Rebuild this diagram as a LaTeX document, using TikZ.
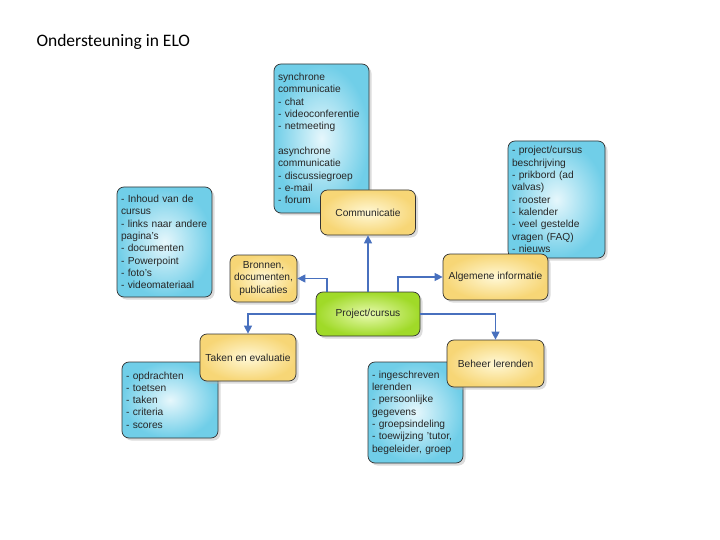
\documentclass[tikz,border=0pt]{standalone}
\usepackage{fontspec}
\setmainfont{Liberation Sans}
\newfontfamily\titlefont{Carlito}
\usepackage{xcolor}
\usetikzlibrary{arrows.meta,shadows}
\definecolor{pijl}{RGB}{72,112,190}
\definecolor{blauwrand}{RGB}{112,206,232}
\definecolor{blauwmid}{RGB}{230,247,252}
\definecolor{geelrand}{RGB}{247,214,118}
\definecolor{geelmid}{RGB}{255,248,214}
\definecolor{groenrand}{RGB}{160,218,40}
\definecolor{groenmid}{RGB}{232,250,176}

\begin{document}
\begin{tikzpicture}[x=1pt,y=-1pt,
  box/.style={draw=black!80,line width=0.7pt,rounded corners=7pt,
    drop shadow={shadow xshift=2.5pt,shadow yshift=-2.5pt,fill=black!30,opacity=0.45},
    font=\fontsize{10.2}{12.3}\selectfont,text=black!85},
  bl/.style={box,inner color=blauwmid,outer color=blauwrand,align=left,inner xsep=4pt,inner ysep=2pt},
  gl/.style={box,inner color=geelmid,outer color=geelrand,align=center},
  gr/.style={box,inner color=groenmid,outer color=groenrand,align=center},
  ar/.style={draw=pijl,line width=1.2pt,-{Triangle[length=8pt,width=8pt]}}]
\useasboundingbox (0,0) rectangle (720,540);
\node[anchor=base west,font=\titlefont\fontsize{17.5}{20}\selectfont] (h) at (33,47) {Ondersteuning in ELO};
% lijstjes
\node[bl,minimum height=149pt,text width=87pt] (ci) at (321.5,138.5)
  {synchrone\\communicatie\\- chat\\- videoconferentie\\- netmeeting\\[12.3pt]asynchrone\\communicatie\\- discussiegroep\\- e-mail\\- forum};
\node[bl,minimum height=110pt,text width=87pt] (bi) at (164.5,242)
  {- Inhoud van de\\cursus\\- links naar andere\\pagina’s\\- documenten\\- Powerpoint\\- foto’s\\- videomateriaal};
\node[bl,minimum height=117pt,text width=89pt] (ai) at (556.5,199.5)
  {- project/cursus\\beschrijving\\- prikbord (ad\\valvas)\\- rooster\\- kalender\\- veel gestelde\\vragen (FAQ)\\- nieuws};
\node[bl,minimum height=76pt,text width=88pt] (ti) at (170,400)
  {- opdrachten\\- toetsen\\- taken\\- criteria\\- scores\\[4pt]};
\node[bl,minimum height=101pt,text width=87pt] (li) at (415.5,412.5)
  {- ingeschreven\\lerenden\\- persoonlijke\\gegevens\\- groepsindeling\\- toewijzing ’tutor,\\begeleider, groep};
% onderdelen
\node[gl,minimum width=95pt,minimum height=45pt] (c) at (368,212.5) {Communicatie};
\node[gl,minimum width=67pt,minimum height=47pt] (b) at (263.5,278.5) {Bronnen,\\documenten,\\publicaties};
\node[gl,minimum width=105pt,minimum height=46pt] (a) at (495.5,277) {Algemene informatie};
\node[gl,minimum width=96pt,minimum height=47pt] (t) at (248,357.5) {Taken en evaluatie};
\node[gl,minimum width=97pt,minimum height=47pt] (l) at (495.5,363.5) {Beheer lerenden};
\node[gr,minimum width=104pt,minimum height=44pt] (p) at (368,314) {Project/cursus};
% pijlen
\draw[ar] (p) -- (c);
\draw[ar] ([xshift=-41pt]p.north) |- (b.east);
\draw[ar] ([xshift=30pt]p.north) |- (a.west);
\draw[ar] (p.west) -| (t.north);
\draw[ar] (p.east) -| (l.north);
\end{tikzpicture}
\end{document}
